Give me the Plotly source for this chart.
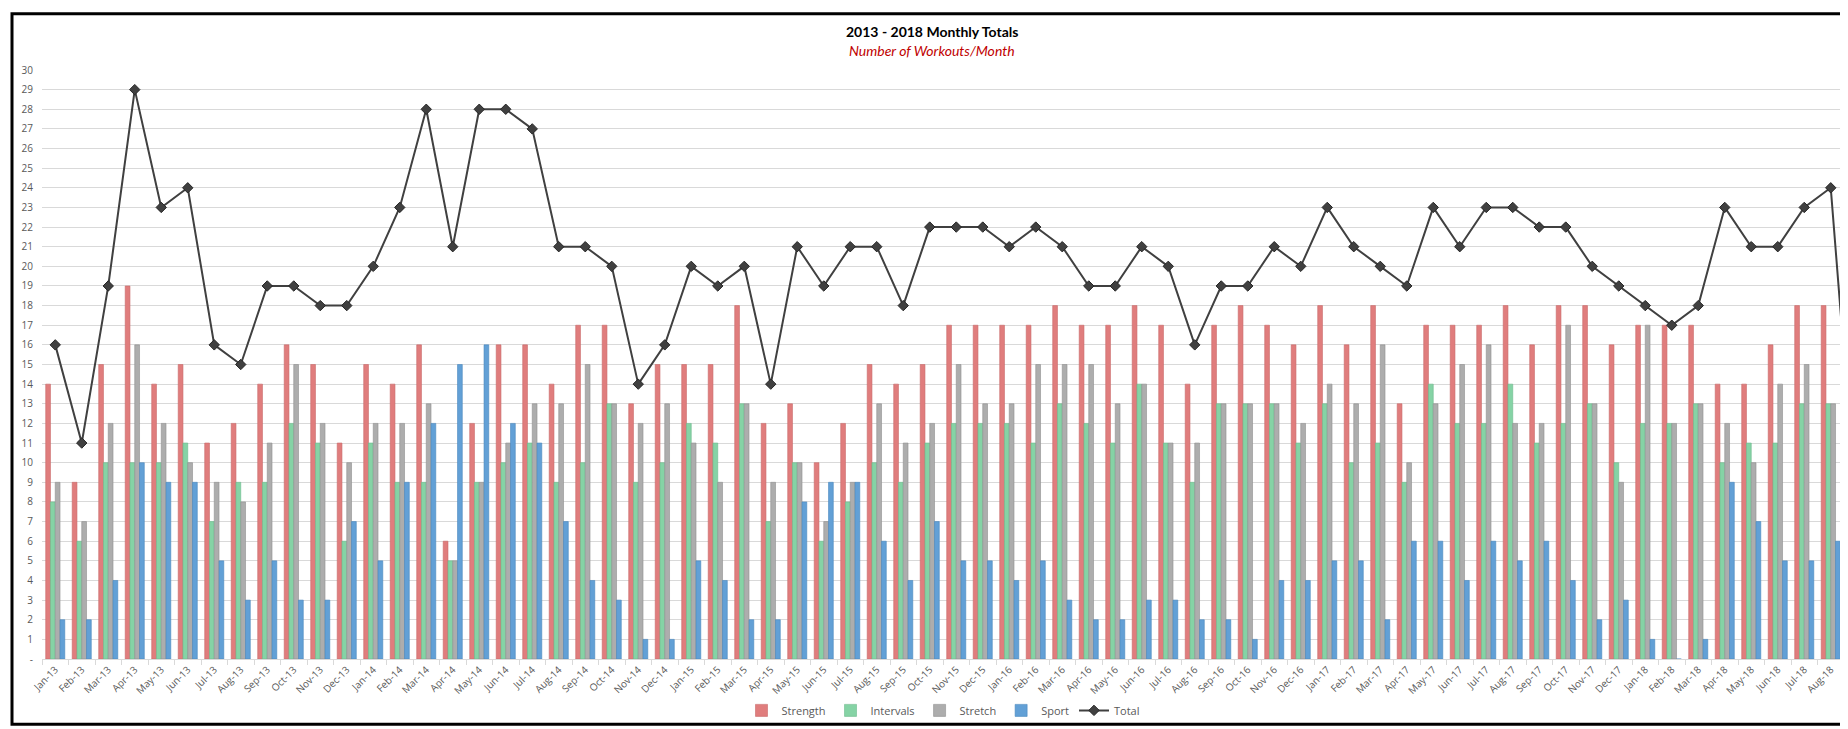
import plotly.graph_objects as go

# month labels (Sep-18 only exists so the Total line can run off the right edge)
months = [f"{m}-{y}" for y in range(13, 19)
          for m in ["Jan", "Feb", "Mar", "Apr", "May", "Jun", "Jul", "Aug", "Sep", "Oct", "Nov", "Dec"]]
months = months[:69]
shown = months[:68]

strength = [14, 9, 15, 19, 14, 15, 11, 12, 14, 16, 15, 11,
            15, 14, 16, 6, 12, 16, 16, 14, 17, 17, 13, 15,
            15, 15, 18, 12, 13, 10, 12, 15, 14, 15, 17, 17,
            17, 17, 18, 17, 17, 18, 17, 14, 17, 18, 17, 16,
            18, 16, 18, 13, 17, 17, 17, 18, 16, 18, 18, 16,
            17, 17, 17, 14, 14, 16, 18, 18]
intervals = [8, 6, 10, 10, 10, 11, 7, 9, 9, 12, 11, 6,
             11, 9, 9, 5, 9, 10, 11, 9, 10, 13, 9, 10,
             12, 11, 13, 7, 10, 6, 8, 10, 9, 11, 12, 12,
             12, 11, 13, 12, 11, 14, 11, 9, 13, 13, 13, 11,
             13, 10, 11, 9, 14, 12, 12, 14, 11, 12, 13, 10,
             12, 12, 13, 10, 11, 11, 13, 13]
stretch = [9, 7, 12, 16, 12, 10, 9, 8, 11, 15, 12, 10,
           12, 12, 13, 5, 9, 11, 13, 13, 15, 13, 12, 13,
           11, 9, 13, 9, 10, 7, 9, 13, 11, 12, 15, 13,
           13, 15, 15, 15, 13, 14, 11, 11, 13, 13, 13, 12,
           14, 13, 16, 10, 13, 15, 16, 12, 12, 17, 13, 9,
           17, 12, 13, 12, 10, 14, 15, 13]
sport = [2, 2, 4, 10, 9, 9, 5, 3, 5, 3, 3, 7,
         5, 9, 12, 15, 16, 12, 11, 7, 4, 3, 1, 1,
         5, 4, 2, 2, 8, 9, 9, 6, 4, 7, 5, 5,
         4, 5, 3, 2, 2, 3, 3, 2, 2, 1, 4, 4,
         5, 5, 2, 6, 6, 4, 6, 5, 6, 4, 2, 3,
         1, 0, 1, 9, 7, 5, 5, 6]
total = [16, 11, 19, 29, 23, 24, 16, 15, 19, 19, 18, 18,
         20, 23, 28, 21, 28, 28, 27, 21, 21, 20, 14, 16,
         20, 19, 20, 14, 21, 19, 21, 21, 18, 22, 22, 22,
         21, 22, 21, 19, 19, 21, 20, 16, 19, 19, 21, 20,
         23, 21, 20, 19, 23, 21, 23, 23, 22, 22, 20, 19,
         18, 17, 18, 23, 21, 21, 23, 24, 7]

y_ticks = list(range(0, 31))
y_text = ["-"] + [str(v) for v in range(1, 31)]

bar_series = [
    ("Strength", strength, "#E07D7D", "#C96A6A"),
    ("Intervals", intervals, "#85D3A5", "#6DBB8D"),
    ("Stretch", stretch, "#ADADAD", "#8E8E8E"),
    ("Sport", sport, "#62A0D6", "#4A88BE"),
]

fig = go.Figure()
for name, vals, col, edge in bar_series:
    fig.add_trace(go.Bar(x=shown, y=vals, name=name,
                         marker=dict(color=col, line=dict(color=edge, width=0.6))))

fig.add_trace(go.Scatter(x=months, y=total, name="Total", mode="lines+markers",
                         line=dict(color="#404040", width=2),
                         marker=dict(symbol="diamond", size=8, color="#404040",
                                     line=dict(color="#262626", width=1))))

W, H = 1848, 729
L, R, T, B = 34, 12, 62, 71
pw, ph = W - L - R, H - T - B


def px(x):
    return (x - L) / pw


def py(y):
    return (H - B - y) / ph


fig.update_layout(
    width=W, height=H,
    margin=dict(l=L, r=R, t=T, b=B),
    paper_bgcolor="white", plot_bgcolor="white",
    barmode="group", bargap=0.28, bargroupgap=0,
    font=dict(family="Open Sans, Liberation Sans, sans-serif", size=10, color="#595959"),
    legend=dict(orientation="h", x=0.5, xanchor="center", y=py(710), yanchor="middle",
                bgcolor="rgba(0,0,0,0)",
                font=dict(size=11, color="#595959"), traceorder="normal"),
    xaxis=dict(type="category", categoryorder="array", categoryarray=months,
               range=[-0.5, 67.5], tickangle=-45, tickfont=dict(size=10, color="#595959"),
               showline=True, linecolor="#D9D9D9", linewidth=1,
               ticks="outside", tickson="boundaries", ticklen=5, tickcolor="#D9D9D9",
               showgrid=False),
    yaxis=dict(range=[0, 30], tickvals=y_ticks, ticktext=y_text,
               tickfont=dict(size=10, color="#595959"),
               showgrid=True, gridcolor="#D9D9D9", gridwidth=1, zeroline=False,
               ticks="", ticklabelstandoff=8),
    showlegend=True,
)

fig.add_annotation(xref="paper", yref="paper", x=px(924), y=py(23), showarrow=False,
                   text="<b>2013 - 2018 Monthly Totals</b>",
                   font=dict(family="Lato, Noto Sans, sans-serif", size=14, color="#000000"),
                   xanchor="center", yanchor="middle")
fig.add_annotation(xref="paper", yref="paper", x=px(924), y=py(42), showarrow=False,
                   text="<i>Number of Workouts/Month</i>",
                   font=dict(family="Lato, Noto Sans, sans-serif", size=14, color="#C00000"),
                   xanchor="center", yanchor="middle")

# black frame round the chart
fig.add_shape(type="rect", xref="paper", yref="paper",
              x0=px(4), x1=px(1844), y0=py(724), y1=py(5),
              line=dict(color="black", width=3), fillcolor="rgba(0,0,0,0)")

fig.write_html("out.html")
